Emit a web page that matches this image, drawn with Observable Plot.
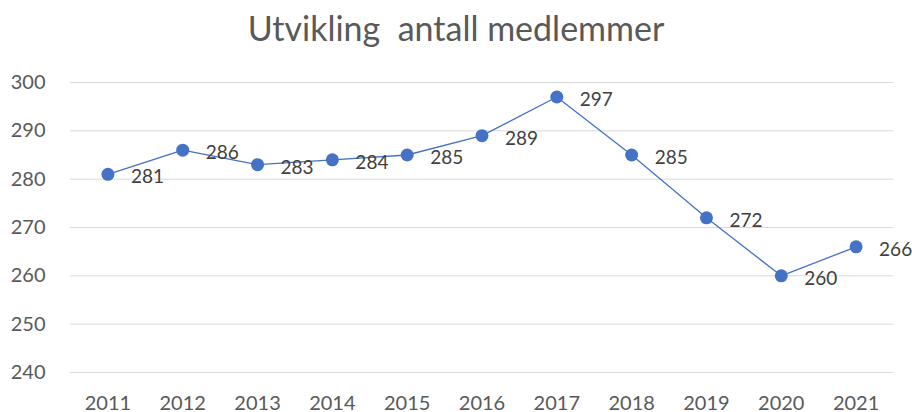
<!DOCTYPE html>
<html><head><meta charset="utf-8">
<script src="https://cdn.jsdelivr.net/npm/d3@7"></script>
<script src="https://cdn.jsdelivr.net/npm/@observablehq/plot@0.6"></script>
<style>
body{margin:0;background:#fff;font-family:Lato,"Open Sans",sans-serif;}
#title{box-sizing:border-box;height:55px;padding-top:11px;line-height:1;text-align:center;font-size:34px;color:#595959;width:912px;white-space:pre;}
</style></head>
<body>
<div id="title">Utvikling  antall medlemmer</div>
<div id="chart"></div>
<script>
const years = ["2011","2012","2013","2014","2015","2016","2017","2018","2019","2020","2021"];
const members = [281,286,283,284,285,289,297,285,272,260,266];
const yTicks = [240,250,260,270,280,290,300];
const data = years.map((y,i)=>({year:y, value:members[i]}));
const blue = "#4472C4";
const chart = Plot.plot({
  width: 912, height: 357,
  marginTop: 27, marginBottom: 40, marginLeft: 70, marginRight: 19,
  style: {fontFamily: "Lato, 'Open Sans', sans-serif", fontSize: "20px", color: "#595959", background: "#fff", overflow: "visible"},
  x: {type: "point", domain: years, padding: 0.5, round: false, label: null, tickSize: 0, tickPadding: 23},
  y: {domain: [240,300], ticks: yTicks, label: null, tickSize: 0, tickPadding: 25},
  marks: [
    Plot.gridY(yTicks, {stroke: "#d9d9d9", strokeOpacity: 1, strokeWidth: 1}),
    Plot.line(data, {x: "year", y: "value", stroke: blue, strokeWidth: 1.3}),
    Plot.dot(data, {x: "year", y: "value", r: 6.5, fill: blue, stroke: null}),
    Plot.text(data, {x: "year", y: "value", text: d => String(d.value), dx: 23, dy: 3, textAnchor: "start", fill: "#404040", fontSize: 19})
  ]
});
document.getElementById("chart").appendChild(chart);
</script>
</body></html>
